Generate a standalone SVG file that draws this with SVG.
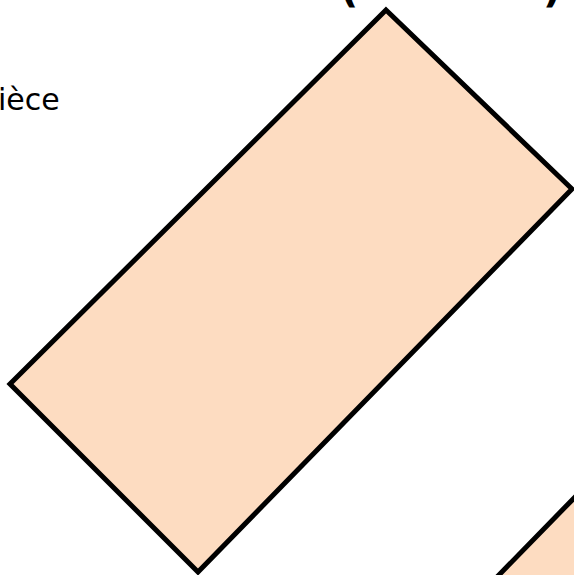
<svg xmlns="http://www.w3.org/2000/svg" width="574" height="575" viewBox="0 0 574 575">
<style>
.shape{fill:#fddcc1;stroke:#000;stroke-width:5;stroke-linejoin:miter}
.lbl{font-family:"DejaVu Sans",Verdana,sans-serif;font-size:30px;fill:#000}
.par{font-family:"DejaVu Sans",Verdana,sans-serif;font-weight:bold;font-size:40px;fill:#000}
</style>
<rect width="574" height="575" fill="#fff"/>
<g id="title">
<text class="par" x="340" y="2">(</text>
<text class="par" x="543" y="2">)</text>
</g>
<g id="label">
<text class="lbl" x="-2" y="110">ièce</text>
</g>
<g id="piece1">
<polygon class="shape" points="386,10 572,189 198,572 10,384"/>
</g>
<g id="piece2">
<polygon class="shape" points="497,577 576,496 700,620 620,700"/>
</g>
<g id="connectors"></g>
</svg>
